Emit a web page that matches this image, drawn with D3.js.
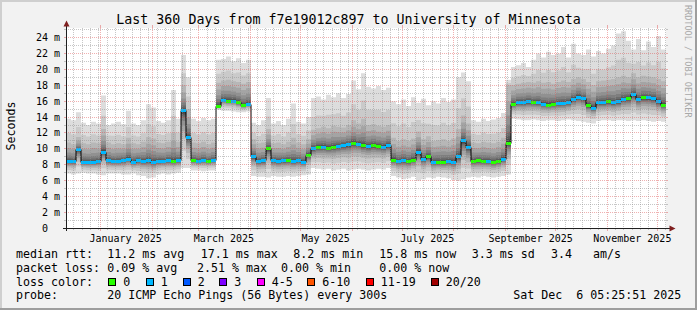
<!DOCTYPE html>
<html lang="en">
<head>
<meta charset="UTF-8">
<title>Smokeping - Last 360 Days</title>
<style>
  body { margin: 0; background: #f2f2f2; }
  svg { display: block; }
  text { font-family: "DejaVu Sans Mono", monospace; fill: #000; white-space: pre; }
</style>
</head>
<body>
<script src="https://cdn.jsdelivr.net/npm/d3@7"></script>
<script>
const W = 697, H = 310
const DAY = 864e5
const endTime = Date.UTC(2025, 11, 6, 5, 25, 51)
const startTime = endTime - 360 * DAY
const STEP = 3   // days per consolidated sample

// median rtt (ms), one value every 3 days
const median = [
  8.4, 8.4, 9.9, 8.3, 8.3, 8.3, 8.4, 9.6, 8.5, 8.4,
  8.4, 8.5, 8.7, 8.3, 8.5, 8.4, 8.5, 8.3, 8.4, 8.4,
  8.5, 8.4, 8.5, 14.8, 11.4, 8.5, 8.4, 8.5, 8.4, 8.5,
  15.3, 16.1, 16.0, 16.0, 15.8, 15.4, 15.6, 9.0, 8.4, 8.5,
  10.0, 8.5, 8.4, 8.5, 8.5, 8.4, 8.5, 8.3, 9.2, 10.0,
  10.2, 10.2, 10.1, 10.2, 10.3, 10.4, 10.5, 10.7, 10.6, 10.4,
  10.3, 10.4, 10.3, 10.2, 10.4, 8.6, 8.4, 8.5, 8.4, 8.6,
  9.6, 8.7, 9.0, 8.3, 8.3, 8.3, 8.4, 8.3, 9.0, 11.0,
  10.2, 8.4, 8.5, 8.4, 8.4, 8.3, 8.4, 8.7, 10.7, 15.6,
  15.8, 15.8, 15.9, 15.8, 15.8, 15.6, 15.5, 15.6, 15.7, 15.7,
  15.8, 16.2, 16.5, 16.3, 15.4, 15.1, 15.8, 15.8, 15.9, 15.8,
  15.9, 16.2, 16.3, 16.8, 16.2, 16.4, 16.4, 16.3, 15.9, 15.5
]
// loss colour class of the median (0 = no loss, 1 = one ping)
const lossCls = [
  1,1,1,1,1,1,1,1,1,1,
  1,1,1,1,1,1,1,1,1,1,
  1,0,1,1,1,0,1,1,0,1,
  0,1,0,1,0,0,1,1,1,1,
  0,1,1,1,0,1,1,1,0,1,
  0,1,0,0,1,1,1,0,1,0,
  1,0,0,1,1,0,1,1,0,0,
  1,1,0,1,0,0,1,1,1,1,
  1,0,0,0,1,0,0,1,0,0,
  1,1,1,0,1,1,0,0,1,1,
  1,1,1,1,0,1,1,1,0,1,
  1,1,0,1,1,0,1,1,1,0
]
// fastest ping
const lo = [
  6.9, 6.8, 6.9, 7.0, 6.9, 6.9, 6.8, 6.7, 6.9, 6.9,
  6.9, 6.8, 6.8, 6.9, 6.7, 6.6, 6.3, 6.4, 6.8, 6.9,
  6.8, 6.9, 7.0, 7.6, 7.6, 7.3, 7.3, 7.2, 7.3, 7.3,
  14.9, 14.8, 14.8, 14.7, 14.6, 14.6, 14.7, 6.6, 6.5, 6.5,
  6.4, 6.6, 6.5, 6.5, 6.6, 6.5, 6.6, 6.7, 6.8, 7.6,
  7.5, 7.4, 7.5, 7.3, 7.4, 7.5, 7.3, 7.4, 7.5, 7.4,
  7.3, 7.4, 7.5, 7.4, 7.6, 6.6, 6.4, 6.2, 6.3, 6.5,
  6.0, 6.2, 6.4, 6.3, 6.5, 6.4, 6.3, 6.1, 6.0, 6.2,
  6.4, 6.5, 6.4, 6.6, 6.5, 6.4, 6.5, 6.6, 6.8, 13.8,
  13.7, 13.6, 13.6, 13.7, 13.6, 13.5, 13.6, 13.6, 13.5, 13.6,
  13.7, 13.6, 13.5, 13.4, 13.3, 13.2, 13.5, 13.6, 13.6, 13.5,
  13.6, 13.6, 13.5, 13.6, 13.5, 13.6, 13.5, 13.4, 13.5, 13.4
]
// upper edge of the dense smoke
const mid = [
  10.8, 10.6, 11.5, 10.7, 10.6, 10.8, 10.7, 12.5, 10.8, 10.6,
  10.7, 10.6, 11.4, 10.7, 10.6, 10.9, 11.5, 11.3, 10.8, 10.7,
  10.9, 12.0, 10.9, 18.0, 15.0, 10.8, 10.7, 10.9, 10.6, 10.8,
  18.3, 18.6, 18.7, 18.5, 18.4, 18.2, 18.4, 11.2, 10.7, 10.8,
  12.5, 10.7, 10.8, 10.6, 10.9, 11.4, 10.8, 10.6, 11.2, 12.4,
  12.6, 12.8, 12.6, 12.9, 12.8, 12.7, 13.0, 13.6, 13.2, 13.8,
  13.0, 13.1, 12.9, 12.8, 13.0, 11.4, 11.0, 11.2, 11.0, 11.3,
  12.2, 11.2, 11.6, 11.0, 11.1, 11.2, 11.0, 11.3, 12.5, 14.2,
  13.2, 10.8, 10.7, 10.9, 10.8, 10.7, 10.9, 11.4, 18.0, 18.0,
  18.2, 18.3, 18.4, 18.3, 18.5, 18.3, 18.4, 18.2, 18.4, 18.6,
  18.4, 18.8, 19.0, 18.8, 18.4, 18.0, 18.5, 18.6, 18.7, 18.8,
  19.0, 19.2, 19.0, 19.5, 19.0, 19.2, 19.1, 19.0, 18.8, 18.5
]
// slowest ping
const hi = [
  13.8, 13.6, 14.6, 13.3, 13.0, 13.4, 13.2, 16.7, 13.0, 13.2,
  13.4, 13.1, 14.8, 13.2, 13.0, 13.6, 15.6, 15.2, 13.5, 13.3,
  13.6, 17.4, 13.8, 21.8, 19.0, 13.8, 13.5, 13.9, 13.6, 13.8,
  21.2, 21.3, 21.6, 21.0, 21.4, 20.8, 21.2, 13.3, 13.0, 13.6,
  16.4, 13.2, 13.5, 13.0, 13.8, 15.7, 13.4, 13.2, 14.0, 16.4,
  16.6, 16.2, 16.8, 16.5, 17.0, 16.4, 16.9, 18.6, 17.5, 19.5,
  17.8, 17.6, 17.9, 17.4, 17.7, 16.0, 15.6, 16.2, 15.4, 16.5,
  15.8, 16.3, 15.5, 16.0, 15.7, 16.4, 15.9, 16.2, 19.0, 19.6,
  18.5, 13.6, 13.4, 13.8, 13.5, 13.7, 13.9, 14.5, 18.7, 20.3,
  20.5, 20.8, 20.3, 21.2, 22.0, 21.5, 22.2, 21.8, 22.0, 22.8,
  21.5, 23.2, 22.0, 21.8, 22.5, 21.6, 22.3, 22.0, 22.6, 23.0,
  24.5, 24.8, 23.6, 22.5, 23.8, 22.4, 23.5, 22.8, 24.2, 22.5
]

const yTicks = d3.range(0, 25, 2)
const lossLegend = [
  {label: "0", color: "#26ff00", x: 108.3},
  {label: "1", color: "#00b8ff", x: 145.7},
  {label: "2", color: "#0059ff", x: 182.7},
  {label: "3", color: "#7e00ff", x: 219.3},
  {label: "4-5", color: "#ff00ff", x: 256.7},
  {label: "6-10", color: "#ff5500", x: 307.3},
  {label: "11-19", color: "#ff0000", x: 365.7},
  {label: "20/20", color: "#a00000", x: 430.7}
]

const data = median.map((m, i) => ({
  t: new Date(startTime + i * STEP * DAY),
  med: m, lo: lo[i], mid: mid[i], hi: hi[i], cls: lossCls[i]
}))
const dataExt = data.concat([Object.assign({}, data[data.length - 1], {t: new Date(endTime)})])

const svg = d3.select("body").append("svg").attr("width", W).attr("height", H)

// frame
svg.append("rect").attr("width", W).attr("height", H).attr("fill", "#f2f2f2")
svg.append("path").attr("d", `M0,0H${W}V2H2V${H}H0Z`).attr("fill", "#cfcfcf")
svg.append("path").attr("d", `M${W},${H}H0V${H-2}H${W-2}V0H${W}Z`).attr("fill", "#9e9e9e")

const x = d3.scaleUtc().domain([new Date(startTime), new Date(endTime)]).range([66, 666])
const y = d3.scaleLinear().domain([0, 25.13]).range([228.5, 28.5])
const snap = v => Math.floor(v) + 0.5

svg.append("rect").attr("x", 66).attr("y", 28).attr("width", 600).attr("height", 200).attr("fill", "#fff")
svg.append("clipPath").attr("id", "plot").append("rect").attr("x", 66).attr("y", 28).attr("width", 600).attr("height", 200)

const g = svg.append("g").attr("clip-path", "url(#plot)")

// smoke: 10 bands from light outer to dark inner
const upF = [null, null, 1, 0.72, 0.48, 0.32, 0.2, 0.12, 0.07, 0.03]
const dnF = [1, 0.7, 0.5, 0.36, 0.26, 0.18, 0.12, 0.08, 0.05, 0.02]
for (let k = 0; k < 10; k++) {
  const top = d => k === 0 ? d.hi : k === 1 ? d.mid + (d.hi - d.mid) * 0.4 : d.med + (d.mid - d.med) * upF[k]
  const bot = d => d.med - (d.med - d.lo) * dnF[k]
  const gr = 221 - 19 * k
  g.append("path")
    .datum(dataExt)
    .attr("fill", `rgb(${gr},${gr},${gr})`)
    .attr("d", d3.area().curve(d3.curveStepAfter)
      .x(d => x(d.t)).y0(d => y(bot(d))).y1(d => y(top(d))))
}

// median line
g.append("path")
  .datum(dataExt)
  .attr("fill", "none").attr("stroke", "#000").attr("stroke-width", 1)
  .attr("d", d3.line().curve(d3.curveStepAfter).x(d => Math.round(x(d.t))).y(d => snap(y(d.med))))

g.selectAll("rect.med").data(data).join("rect")
  .attr("class", "med")
  .attr("x", (d, i) => Math.round(x(d.t)))
  .attr("width", (d, i) => Math.round(x(dataExt[i + 1].t)) - Math.round(x(d.t)))
  .attr("y", d => Math.floor(y(d.med)) - 1)
  .attr("height", 3)
  .attr("fill", d => lossLegend[d.cls].color)

// grid
const gridC = "rgba(143,143,143,0.5)", mgridC = "rgba(222,79,79,0.45)"
const grid = svg.append("g").attr("fill", "none").attr("stroke-dasharray", "1,1").attr("stroke-width", 1)

const monthStarts = d3.utcMonth.range(new Date(startTime), new Date(endTime))
const minorDays = d3.utcDay.range(new Date(Date.UTC(2024, 11, 11)), new Date(endTime), 5)
  .filter(d => d > startTime && d.getUTCDate() !== 1)

for (let v = 1; v <= 25; v++) {
  const major = v % 2 === 0
  const yy = snap(y(v))
  grid.append("line").attr("x1", 66).attr("x2", 666).attr("y1", yy).attr("y2", yy)
    .attr("stroke", major ? mgridC : gridC)
  svg.append("line").attr("x1", 64).attr("x2", 66).attr("y1", yy).attr("y2", yy)
    .attr("stroke", major ? mgridC : gridC)
  svg.append("line").attr("x1", 666).attr("x2", 668).attr("y1", yy).attr("y2", yy)
    .attr("stroke", major ? mgridC : gridC)
}
minorDays.forEach(d => {
  const xx = snap(x(d))
  grid.append("line").attr("x1", xx).attr("x2", xx).attr("y1", 28).attr("y2", 228).attr("stroke", gridC)
  svg.append("line").attr("x1", xx).attr("x2", xx).attr("y1", 228).attr("y2", 230).attr("stroke", gridC)
})
monthStarts.forEach(d => {
  const xx = snap(x(d))
  grid.append("line").attr("x1", xx).attr("x2", xx).attr("y1", 28).attr("y2", 228).attr("stroke", mgridC)
  svg.append("line").attr("x1", xx).attr("x2", xx).attr("y1", 228).attr("y2", 231).attr("stroke", mgridC)
  svg.append("line").attr("x1", xx).attr("x2", xx).attr("y1", 25).attr("y2", 28).attr("stroke", mgridC)
})

// axes + arrows
svg.append("line").attr("x1", 63).attr("x2", 671).attr("y1", 228.5).attr("y2", 228.5).attr("stroke", "#1f1f1f")
svg.append("line").attr("x1", 66.5).attr("x2", 66.5).attr("y1", 231).attr("y2", 24).attr("stroke", "#1f1f1f")
svg.append("path").attr("d", "M66.5,20.5L69.5,26.5L63.5,26.5Z").attr("fill", "#7f1f1f")
svg.append("path").attr("d", "M675.5,228.5L669.5,225.5L669.5,231.5Z").attr("fill", "#7f1f1f")

// y labels
yTicks.forEach(v => {
  const yy = y(v) + 3.5
  svg.append("text").attr("x", 48.1).attr("y", yy).attr("text-anchor", "end")
    .style("font-size", "10px").text(v)
  if (v > 0) svg.append("text").attr("x", 54.1).attr("y", yy).style("font-size", "10px").text("m")
})

// x labels (every second month, centred half a month in)
monthStarts.filter(d => d.getUTCMonth() % 2 === 0).forEach(d => {
  svg.append("text")
    .attr("x", x(new Date(+d + 15 * DAY))).attr("y", 241.5)
    .attr("text-anchor", "middle").style("font-size", "10px")
    .text(d3.utcFormat("%B %Y")(d))
})

// title and side texts
svg.append("text").attr("x", 348.5).attr("y", 24).attr("text-anchor", "middle")
  .style("font-size", "13.3px").text("Last 360 Days from f7e19012c897 to University of Minnesota")
svg.append("text").attr("transform", "translate(14.5,126) rotate(-90)").attr("text-anchor", "middle")
  .style("font-size", "11.6px").text("Seconds")
svg.append("text").attr("transform", "translate(685,5) rotate(90)")
  .style("font-size", "8.5px").style("fill", "#a8a8a8").text("RRDTOOL / TOBI OETIKER")

// legend
const leg = (s, xx, yy) => svg.append("text").attr("x", xx).attr("y", yy).style("font-size", "11.63px").text(s)
const r1 = 258.3, r2 = 272, r3 = 285.7, r4 = 299.3
leg("median rtt:", 16, r1)
leg("11.2 ms avg", 107.3, r1)
leg("17.1 ms max", 200.7, r1)
leg("8.2 ms min", 293.3, r1)
leg("15.8 ms now", 379.3, r1)
leg("3.3 ms sd", 471.7, r1)
leg("3.4   am/s", 551, r1)
leg("packet loss:", 16, r2)
leg("0.09 % avg", 107.3, r2)
leg("2.51 % max", 197, r2)
leg("0.00 % min", 281, r2)
leg("0.00 % now", 379.3, r2)
leg("loss color:", 16, r3)
lossLegend.forEach(l => {
  svg.append("rect").attr("x", Math.round(l.x) + 0.5).attr("y", 278.5).attr("width", 7).attr("height", 7)
    .attr("fill", l.color).attr("stroke", "#000")
  leg(l.label, l.x + 15, r3)
})
leg("probe:", 16, r4)
leg("20 ICMP Echo Pings (56 Bytes) every 300s", 107.3, r4)
leg("Sat Dec  6 05:25:51 2025", 513.3, r4)
</script>
</body>
</html>
